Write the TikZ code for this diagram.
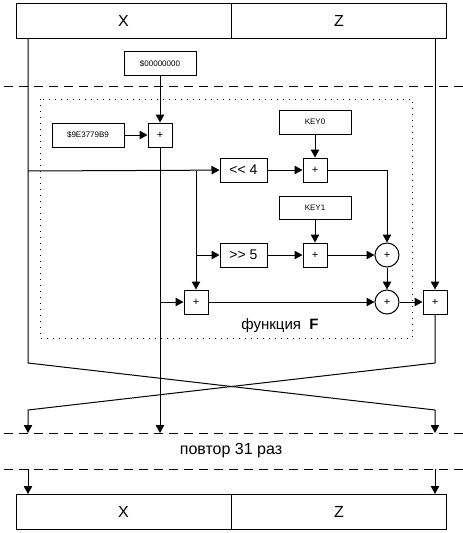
\documentclass[tikz,border=0pt]{standalone}
\usepackage{fontspec}
\setmainfont{Liberation Sans}
\usetikzlibrary{arrows.meta}
\begin{document}
\begin{tikzpicture}[x=1pt,y=-1pt,line width=1pt,
  box/.style={draw,rectangle,inner sep=0pt,anchor=center},
  halfbox/.style={box,minimum width=215pt,minimum height=35pt,font=\fontsize{16}{16}\selectfont},
  constbox/.style={box,minimum width=72pt,minimum height=24pt,font=\fontsize{8}{8}\selectfont},
  shiftbox/.style={box,minimum width=47pt,minimum height=24pt,font=\fontsize{14}{14}\selectfont},
  plusbox/.style={box,minimum width=24pt,minimum height=24pt,font=\fontsize{11}{11}\selectfont},
  xorc/.style={draw,circle,inner sep=0pt,minimum size=24pt,anchor=center,font=\fontsize{11}{11}\selectfont},
  arr/.style={-{Triangle[length=8pt,width=8.5pt]}},
  dashline/.style={dash pattern=on 9pt off 6pt},
  dotline/.style={line width=1pt,dash pattern=on 1pt off 5pt}]
\useasboundingbox (0,0) rectangle (463,533);
% top and bottom registers
\node[halfbox] (x1) at (123.5,20.5) {X};
\node[halfbox] (z1) at (339,20.5) {Z};
\node[halfbox] (x2) at (123.5,512) {X};
\node[halfbox] (z2) at (339,512) {Z};
% separators
\draw[dashline] (4,86) -- (463,86);
\draw[dashline] (4,433) -- (463,433);
\draw[dashline] (4,469) -- (463,469);
\draw[dotline] (40,99) rectangle (412,338);
% nodes
\node[constbox] (zero) at (160,63.5) {\$00000000};
\node[constbox] (delta) at (88,135) {\$9E3779B9};
\node[plusbox] (p1) at (160,135) {+};
\node[constbox] (key0) at (315,122) {KEY0};
\node[shiftbox] (sh4) at (243.5,170) {<{}< 4};
\node[plusbox] (pk0) at (315,170) {+};
\node[constbox,minimum height=23pt] (key1) at (315,207.5) {KEY1};
\node[shiftbox] (sh5) at (243.5,255) {>{}> 5};
\node[plusbox] (pk1) at (315,255) {+};
\node[xorc] (c1) at (387,255) {+};
\node[xorc] (c2) at (387,302) {+};
\node[plusbox] (p2) at (196,302) {+};
\node[plusbox] (p3) at (435,302) {+};
\node[font=\fontsize{15}{15}\selectfont] (flabel) at (280,326) {функция \ \textbf{F}};
\node[font=\fontsize{16}{16}\selectfont] (rep) at (231,451) {повтор 31 раз};
% coordinates
\coordinate (xs) at (28,38);
\coordinate (xb) at (28,171);
\coordinate (xe) at (28,363);
\coordinate (xc) at (435,410);
\coordinate (xa) at (435,433);
\coordinate (zs) at (435,38);
\coordinate (ze) at (435,363);
\coordinate (zc) at (28,410);
\coordinate (za) at (28,433);
\coordinate (br) at (196,171);
\coordinate (br5) at (196,255);
\coordinate (ya) at (160,433);
\coordinate (yb) at (160,302);
\coordinate (turn) at (387,170);
\coordinate (lx) at (28,469);
\coordinate (lz) at (435,469);
\coordinate (bx) at (28,494);
\coordinate (bz) at (435,494);
% connectors
\draw[arr] (zero) -- (p1);
\draw[arr] (delta) -- (p1);
\draw[arr] (xs) -- (xe) -- (xc) -- (xa);
\draw[arr] (xb) -- (sh4);
\draw[arr] (br) -- (p2);
\draw[arr] (br5) -- (sh5);
\draw[arr] (key0) -- (pk0);
\draw[arr] (sh4) -- (pk0);
\draw[arr] (pk0) -- (turn) -- (c1);
\draw[arr] (key1) -- (pk1);
\draw[arr] (sh5) -- (pk1);
\draw[arr] (pk1) -- (c1);
\draw[arr] (c1) -- (c2);
\draw[arr] (p1) -- (ya);
\draw[arr] (yb) -- (p2);
\draw[arr] (p2) -- (c2);
\draw[arr] (c2) -- (p3);
\draw[arr] (zs) -- (p3);
\draw[arr] (p3) -- (ze) -- (zc) -- (za);
\draw[arr] (lx) -- (bx);
\draw[arr] (lz) -- (bz);
\end{tikzpicture}
\end{document}
